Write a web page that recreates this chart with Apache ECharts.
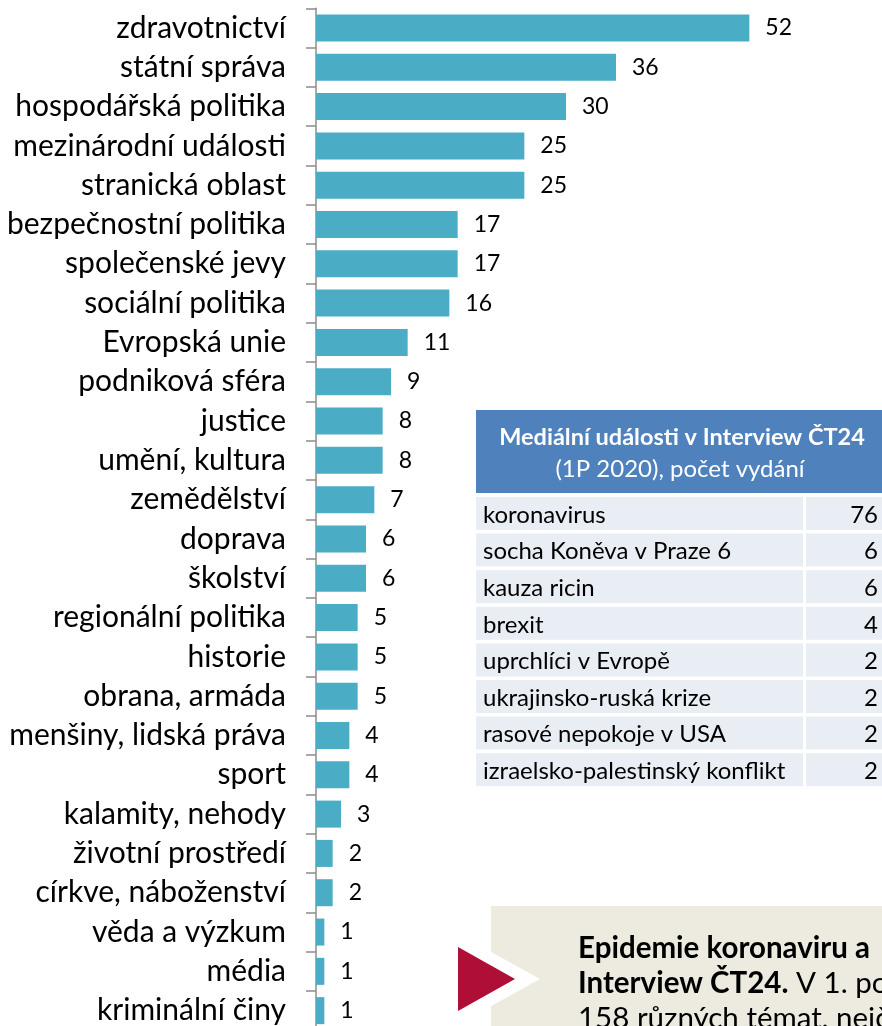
<!DOCTYPE html>
<html>
<head>
<meta charset="utf-8">
<script src="https://cdn.jsdelivr.net/npm/echarts@6/dist/echarts.min.js"></script>
<style>
html,body{margin:0;padding:0;background:#fff;}
#chart{width:882px;height:1026px;}
</style>
</head>
<body>
<div id="chart"></div>
<script>
const categories = ["zdravotnictví","státní správa","hospodářská politika","mezinárodní události","stranická oblast","bezpečnostní politika","společenské jevy","sociální politika","Evropská unie","podniková sféra","justice","umění, kultura","zemědělství","doprava","školství","regionální politika","historie","obrana, armáda","menšiny, lidská práva","sport","kalamity, nehody","životní prostředí","církve, náboženství","věda a výzkum","média","kriminální činy"];
const values = [52,36,30,25,25,17,17,16,11,9,8,8,7,6,6,5,5,5,4,4,3,2,2,1,1,1];

const tableTitle = "Mediální události v Interview ČT24";
const tableSubtitle = "(1P 2020), počet vydání";
const tableTopics = ["koronavirus","socha Koněva v Praze 6","kauza ricin","brexit","uprchlíci v Evropě","ukrajinsko-ruská krize","rasové nepokoje v USA","izraelsko-palestinský konflikt"];
const tableCounts = [76,6,6,4,2,2,2,2];

const boxBold1 = "Epidemie koronaviru a";
const boxBold2 = "Interview ČT24.";
const boxText2 = " V 1. pololetí";
const boxText3 = "158 různých témat, nejčastěji";

const FONT = "Lato, 'Open Sans', sans-serif";
const chart = echarts.init(document.getElementById('chart'));

const graphics = [];
// table header
const tx = 476, tw = 420;
graphics.push({type:'rect', shape:{x:tx, y:410, width:tw, height:83}, style:{fill:'#4F81BD'}});
graphics.push({type:'text', x:682, y:437, style:{text:tableTitle, fill:'#fff', font:"bold 23.5px "+FONT, textAlign:'center', textVerticalAlign:'middle'}});
graphics.push({type:'text', x:680, y:469, style:{text:tableSubtitle, fill:'#fff', font:"24px "+FONT, textAlign:'center', textVerticalAlign:'middle'}});
tableTopics.forEach((t, i) => {
  const y = 497 + i*36.6;
  graphics.push({type:'rect', shape:{x:tx, y:y, width:327, height:33}, style:{fill:'#E9EDF4'}});
  graphics.push({type:'rect', shape:{x:806, y:y, width:90, height:33}, style:{fill:'#E9EDF4'}});
  graphics.push({type:'text', x:483, y:y+18, style:{text:t, fill:'#000', font:"24px "+FONT, textAlign:'left', textVerticalAlign:'middle'}});
  graphics.push({type:'text', x:878, y:y+18, style:{text:String(tableCounts[i]), fill:'#000', font:"24px "+FONT, textAlign:'right', textVerticalAlign:'middle'}});
});
// bottom box
graphics.push({type:'rect', shape:{x:491, y:906, width:420, height:140}, style:{fill:'#EDEAE0'}});
graphics.push({type:'polygon', shape:{points:[[430,918],[540,979],[430,1040]]}, style:{fill:'#fff'}});
graphics.push({type:'polygon', shape:{points:[[458,947],[515,979],[458,1011]]}, style:{fill:'#AF0F37'}});
graphics.push({type:'text', x:578, y:948, style:{text:boxBold1, fill:'#000', font:"bold 29.5px "+FONT, textAlign:'left', textVerticalAlign:'middle'}});
graphics.push({type:'text', x:578, y:983, style:{
  text:'{b|'+boxBold2+'}{r|'+boxText2+'}', textAlign:'left', textVerticalAlign:'middle',
  rich:{b:{font:"bold 29.5px "+FONT, fill:'#000'}, r:{font:"29.5px "+FONT, fill:'#000'}}
}});
graphics.push({type:'text', x:578, y:1018, style:{text:boxText3, fill:'#000', font:"29.5px "+FONT, textAlign:'left', textVerticalAlign:'middle'}});

chart.setOption({
  animation:false,
  backgroundColor:'#fff',
  grid:{left:316, top:8.3, width:500, height:1022, outerBoundsMode:'none', containLabel:false},
  xAxis:{type:'value', min:0, max:60, show:false},
  yAxis:{
    type:'category', data:categories, inverse:true,
    axisLine:{show:true, lineStyle:{color:'#8C8C8C', width:1.5}},
    axisTick:{show:true, length:10, lineStyle:{color:'#8C8C8C', width:1.5}},
    axisLabel:{color:'#000', fontSize:30, fontFamily:FONT, margin:30}
  },
  series:[{
    type:'bar', data:values, barWidth:27,
    itemStyle:{color:'#4BACC6'},
    label:{show:true, position:'right', distance:16, color:'#000', fontSize:23, fontFamily:FONT}
  }],
  graphic:graphics
});
</script>
</body>
</html>
